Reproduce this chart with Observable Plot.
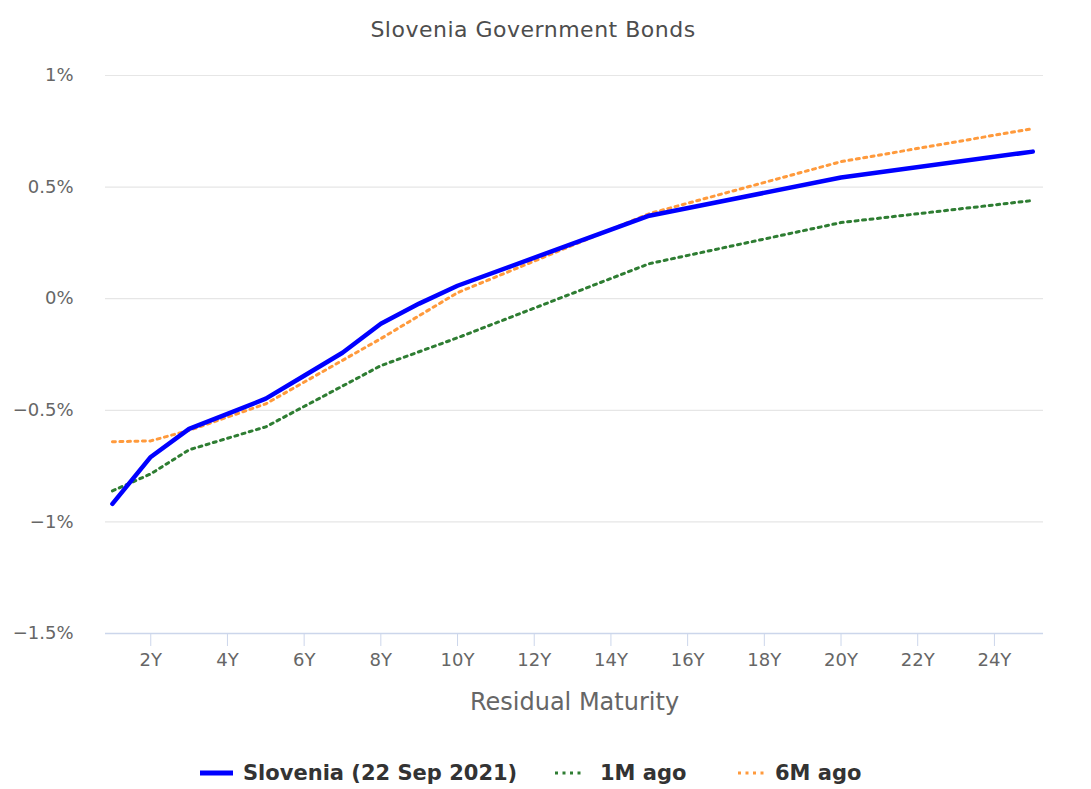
<!DOCTYPE html>
<html>
<head>
<meta charset="utf-8">
<script src="https://cdn.jsdelivr.net/npm/d3@7"></script>
<script src="https://cdn.jsdelivr.net/npm/@observablehq/plot@0.6"></script>
<style>
  html, body { margin: 0; padding: 0; background: #fff; }
  body { width: 1091px; height: 789px; position: relative; overflow: hidden; }
  #title { position: absolute; top: 14px; left: 0; width: 1066px; text-align: center;
    font-family: "DejaVu Sans", sans-serif; letter-spacing: 0.5px;
    font-size: 22px; color: #4d4d4d; line-height: 32px; }
  #chart { position: absolute; top: 45px; left: 0; }
  #legend { position: absolute; top: 758px; left: 200px; height: 30px;
    font-family: "DejaVu Sans", sans-serif; font-weight: bold; font-size: 21px; color: #333; line-height: 30px; }
  .item { position: absolute; top: 0; display: flex; align-items: center; white-space: nowrap; }
</style>
</head>
<body>
<div id="title">Slovenia Government Bonds</div>
<div id="chart"></div>
<div id="legend"></div>
<script>
const tenors = [1, 2, 3, 4, 5, 6, 7, 8, 9, 10, 15, 20, 25];
const currentYield = [-0.919, -0.709, -0.583, -0.516, -0.448, -0.345, -0.242, -0.112, -0.022, 0.058, 0.372, 0.543, 0.659];
const tenors1M = [1, 2, 3, 5, 8, 10, 15, 20, 25];
const yield1M = [-0.861, -0.785, -0.677, -0.574, -0.300, -0.175, 0.157, 0.341, 0.440];
const tenors6M = [1, 2, 3, 5, 8, 10, 15, 20, 25];
const yield6M = [-0.641, -0.637, -0.59, -0.471, -0.179, 0.027, 0.381, 0.614, 0.762];
const seriesNames = ["Slovenia (22 Sep 2021)", "1M ago", "6M ago"];
const seriesColors = ["#0000ff", "#2e7d32", "#ff9a3c"];
const xTicks = [2, 4, 6, 8, 10, 12, 14, 16, 18, 20, 22, 24];
const yTicks = [-1.5, -1, -0.5, 0, 0.5, 1];

const cur = tenors.map((t, i) => ({t, v: currentYield[i]}));
const m1 = tenors1M.map((t, i) => ({t, v: yield1M[i]}));
const m6 = tenors6M.map((t, i) => ({t, v: yield6M[i]}));

const fmtY = d => (d < 0 ? "\u2212" + Math.abs(d) : String(d)) + "%";

const chart = Plot.plot({
  width: 1091,
  height: 690,
  marginTop: 30,
  marginBottom: 102,
  marginLeft: 105,
  marginRight: 48,
  style: { fontFamily: "DejaVu Sans", fontSize: "18px", color: "#666", background: "#fff" },
  x: { domain: [0.82, 25.28], label: null },
  y: { domain: [-1.5, 1], label: null },
  marks: [
    Plot.ruleY(yTicks.filter(d => d > -1.5), { stroke: "#e6e6e6", strokeWidth: 1.2 }),
    Plot.ruleY([-1.5], { stroke: "#ccd6eb", strokeWidth: 1.5 }),
    Plot.axisY({ ticks: yTicks, tickFormat: fmtY, tickSize: 0, tickPadding: 32, fill: "#666", fontSize: 18, label: null }),
    Plot.axisX({ ticks: xTicks, tickFormat: d => d + "Y", tickSize: 13, tickPadding: 7, stroke: "#ccd6eb",
      fill: "#666", fontSize: 18, label: null }),
    Plot.text(["Residual Maturity"], { frameAnchor: "bottom", dy: 76, fontSize: 24, fill: "#666" }),
    Plot.line(m6, { x: "t", y: "v", stroke: seriesColors[2], strokeWidth: 3, strokeDasharray: "3,4.5" }),
    Plot.line(m1, { x: "t", y: "v", stroke: seriesColors[1], strokeWidth: 3, strokeDasharray: "3,4.5" }),
    Plot.line(cur, { x: "t", y: "v", stroke: seriesColors[0], strokeWidth: 4.5, strokeLinejoin: "round", strokeLinecap: "round" })
  ]
});
document.getElementById("chart").appendChild(chart);

const legend = document.getElementById("legend");
const lefts = [0, 355, 538];
const widths = [33, 30, 27];
const gaps = [10, 15, 10];
seriesNames.forEach((name, i) => {
  const item = document.createElement("div");
  item.className = "item";
  item.style.left = lefts[i] + "px";
  item.style.gap = gaps[i] + "px";
  const dash = i === 0 ? "" : "stroke-dasharray='3,4.5'";
  const sw = i === 0 ? 5 : 3;
  const w = widths[i];
  item.innerHTML = `<svg width="${w}" height="12"><line x1="0" y1="6" x2="${w}" y2="6" stroke="${seriesColors[i]}" stroke-width="${sw}" ${dash}/></svg><span>${name}</span>`;
  legend.appendChild(item);
});
</script>
</body>
</html>
